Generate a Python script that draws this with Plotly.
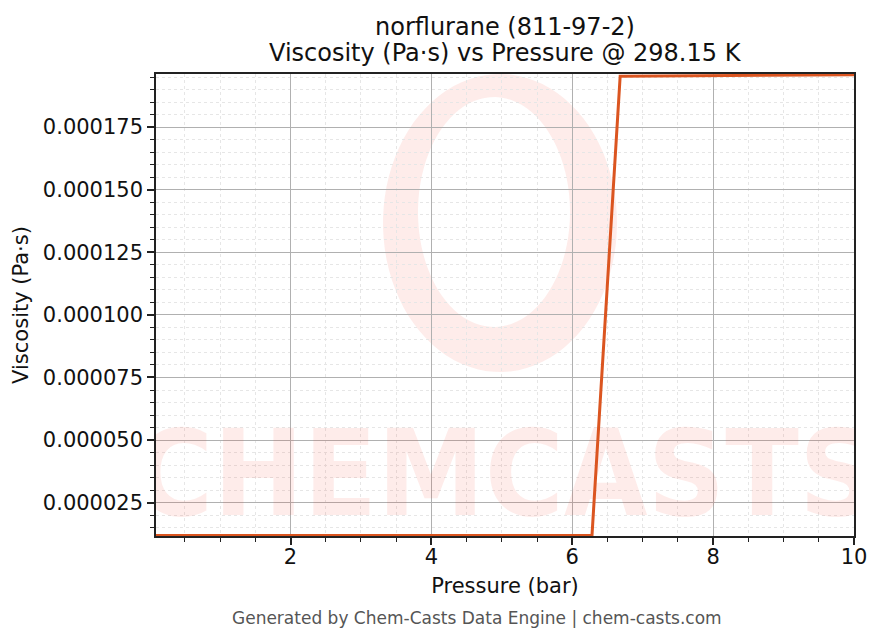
import numpy as np
import plotly.graph_objects as go

# norflurane (R-134a) viscosity along the 298.15 K isotherm
pressure_bar = [0.09, 0.5, 1.0, 1.5, 2.0, 2.5, 3.0, 3.5, 4.0, 4.5, 5.0, 5.5, 6.0, 6.28,
                6.68, 7.0, 7.5, 8.0, 8.5, 9.0, 9.5, 10.0]
viscosity_pas = [1.185e-05, 1.185e-05, 1.185e-05, 1.186e-05, 1.186e-05, 1.187e-05, 1.187e-05,
                 1.188e-05, 1.188e-05, 1.189e-05, 1.190e-05, 1.191e-05, 1.192e-05, 1.193e-05,
                 1.9530e-04, 1.9535e-04, 1.9542e-04, 1.9550e-04, 1.9558e-04, 1.9566e-04,
                 1.9574e-04, 1.9590e-04]

title_lines = ["norflurane (811-97-2)", "Viscosity (Pa·s) vs Pressure @ 298.15 K"]
footer_text = "Generated by Chem-Casts Data Engine | chem-casts.com"
wm_color = "rgba(245, 40, 20, 0.09)"

fig = go.Figure()

# watermark word, clipped to the axes like the original
fig.add_trace(go.Scatter(
    x=[5.05], y=[3.2e-05], mode="text", text=["CHEMCASTS"],
    textfont=dict(family="Liberation Sans Narrow, DejaVu Sans Condensed, DejaVu Sans",
                  size=120, color=wm_color, weight="bold"),
    cliponaxis=True, hoverinfo="skip", showlegend=False,
))

fig.add_trace(go.Scatter(
    x=pressure_bar, y=viscosity_pas, mode="lines",
    line=dict(color="#db5520", width=3),
    showlegend=False,
))

# plot box in page pixels; the page body adds an 8px offset
OFF = 8
L, R, T, B = 156, 854, 74, 536
W, H = 883 - OFF, 644 - OFF

def to_paper(px, py):
    return (px - L) / (R - L), (B - py) / (B - T)

# watermark ring (paper coords), offset inner ellipse gives the crescent look
t = np.linspace(0, 2 * np.pi, 90)
outer = [to_paper(500 + 117 * np.cos(a), 223 + 149 * np.sin(a)) for a in t]
inner = [to_paper(494 + 76 * np.cos(a), 212 + 115 * np.sin(a)) for a in t[::-1]]
path = "M " + " L ".join(f"{x:.4f},{y:.4f}" for x, y in outer) + " Z "
path += "M " + " L ".join(f"{x:.4f},{y:.4f}" for x, y in inner) + " Z"
fig.add_shape(type="path", path=path, xref="paper", yref="paper",
              fillcolor=wm_color, line_width=0, layer="below", fillrule="evenodd")

axis_common = dict(
    showline=True, linecolor="#222", linewidth=1.5, mirror=True,
    ticks="outside", ticklen=7, tickwidth=1.5, tickcolor="#222",
    showgrid=True, gridcolor="#b0b0b0", gridwidth=0.8,
    zeroline=False, automargin=False,
    tickfont=dict(family="DejaVu Sans", size=21, color="#111"),
)
minor_common = dict(ticks="outside", ticklen=4, tickwidth=1, tickcolor="#222",
                    showgrid=True, gridcolor="#e6e6e6", gridwidth=0.6, griddash="dot")

fig.update_xaxes(
    **axis_common,
    range=[0.09, 10.0], tick0=0, dtick=2, ticklabelstandoff=-6,
    minor=dict(dtick=0.5, **minor_common),
    title=dict(text="Pressure (bar)", font=dict(family="DejaVu Sans", size=21, color="#111"),
               standoff=10),
)
fig.update_yaxes(
    **axis_common,
    range=[1.17e-05, 1.962e-04], tick0=0, dtick=2.5e-05, tickformat=".6f",
    minor=dict(dtick=5e-06, **minor_common),
    title=dict(text="Viscosity (Pa·s)", font=dict(family="DejaVu Sans", size=21, color="#111"),
               standoff=8),
)

for text, py in zip(title_lines, [27, 53]):
    x, y = to_paper(505, py)
    fig.add_annotation(text=text, xref="paper", yref="paper", x=x, y=y,
                       showarrow=False, xanchor="center", yanchor="middle",
                       font=dict(family="DejaVu Sans", size=24, color="#111"))

x, y = to_paper(477, 618)
fig.add_annotation(text=footer_text, xref="paper", yref="paper", x=x, y=y,
                   showarrow=False, xanchor="center", yanchor="middle",
                   font=dict(family="DejaVu Sans", size=17, color="#555"))

fig.update_layout(
    width=W, height=H,
    margin=dict(l=L - OFF, r=883 - R, t=T - OFF, b=644 - B),
    paper_bgcolor="white", plot_bgcolor="white",
    font=dict(family="DejaVu Sans"),
)

fig.write_html("out.html")
